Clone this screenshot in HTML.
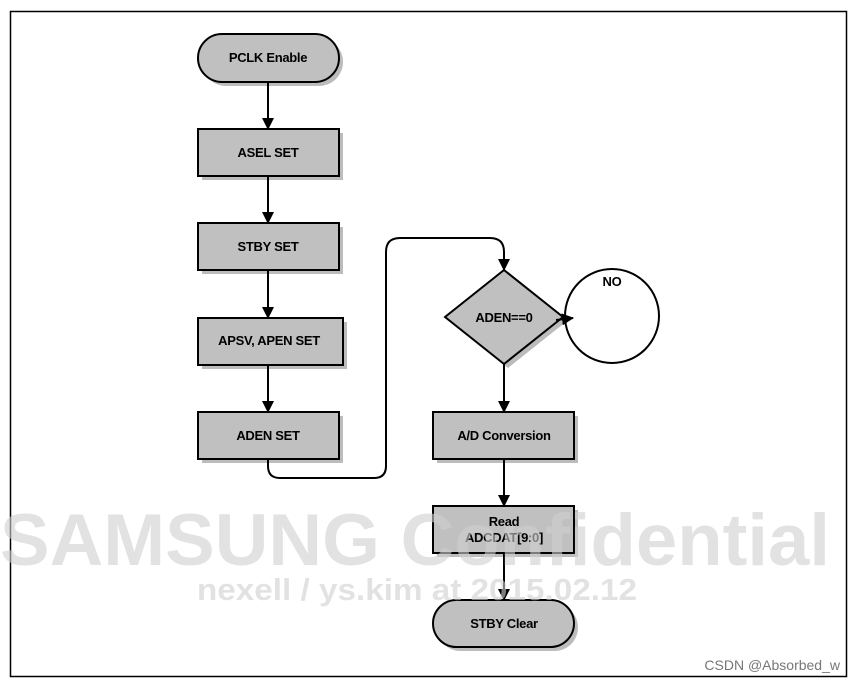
<!DOCTYPE html>
<html><head><meta charset="utf-8"><style>
html,body{margin:0;padding:0;background:#fff}
svg{display:block}
text{font-family:"Liberation Sans",Arial,sans-serif}
</style></head><body>
<svg width="857" height="681" viewBox="0 0 857 681" xmlns="http://www.w3.org/2000/svg">
<defs>
<marker id="ah" markerWidth="12" markerHeight="12" refX="11" refY="6" orient="auto" markerUnits="userSpaceOnUse">
<path d="M0,0 L12,6 L0,12 Z" fill="#000"/></marker>
</defs>
<rect x="10.5" y="11.5" width="836" height="665" fill="#fff" stroke="#000" stroke-width="1.5"/>
<g fill="#a0a0a0" opacity="0.7">
<rect x="202" y="38" width="141" height="48" rx="24"/>
<rect x="202" y="133" width="141" height="47"/>
<rect x="202" y="227" width="141" height="47"/>
<rect x="202" y="322" width="145" height="47"/>
<rect x="202" y="416" width="141" height="47"/>
<polygon points="508,274 567,321 508,368 449,321"/>
<rect x="437" y="416" width="141" height="47"/>
<rect x="437" y="510" width="141" height="47"/>
<rect x="437" y="604" width="141" height="47" rx="23.5"/>
</g>
<g fill="#c0c0c0" stroke="#000" stroke-width="2">
<rect x="198" y="34" width="141" height="48" rx="24"/>
<rect x="198" y="129" width="141" height="47"/>
<rect x="198" y="223" width="141" height="47"/>
<rect x="198" y="318" width="145" height="47"/>
<rect x="198" y="412" width="141" height="47"/>
<polygon points="504,270 563,317 504,364 445,317"/>
<rect x="433" y="412" width="141" height="47"/>
<rect x="433" y="506" width="141" height="47"/>
<rect x="433" y="600" width="141" height="47" rx="23.5"/>
</g>
<circle cx="612" cy="316" r="47" fill="none" stroke="#000" stroke-width="2"/>
<g stroke="#000" stroke-width="2" fill="none" marker-end="url(#ah)">
<line x1="268" y1="82" x2="268" y2="129"/>
<line x1="268" y1="176" x2="268" y2="223"/>
<line x1="268" y1="270" x2="268" y2="318"/>
<line x1="268" y1="365" x2="268" y2="412"/>
<path d="M268,459 V466 Q268,478 280,478 H374 Q386,478 386,466 V252 Q386,238 400,238 H490 Q504,238 504,252 V270"/>
<line x1="504" y1="364" x2="504" y2="412"/>
<line x1="504" y1="459" x2="504" y2="506"/>
<line x1="504" y1="553" x2="504" y2="600"/>
<line x1="556" y1="320" x2="573" y2="318"/>
</g>
<g font-size="13" font-weight="bold" fill="#000" text-anchor="middle" letter-spacing="-0.3">
<text x="268" y="62">PCLK Enable</text>
<text x="268" y="157">ASEL SET</text>
<text x="268" y="251">STBY SET</text>
<text x="269" y="345">APSV, APEN SET</text>
<text x="268" y="440">ADEN SET</text>
<text x="504" y="322">ADEN==0</text>
<text x="612" y="286">NO</text>
<text x="504" y="440">A/D Conversion</text>
<text x="504" y="526">Read</text>
<text x="504" y="542">ADCDAT[9:0]</text>
<text x="504" y="628">STBY Clear</text>
</g>
<g fill="#d0d0d0" opacity="0.6" font-weight="bold">
<text x="0" y="565" font-size="73" textLength="830" lengthAdjust="spacingAndGlyphs">SAMSUNG Confidential</text>
<text x="197" y="600" font-size="31" textLength="440" lengthAdjust="spacingAndGlyphs">nexell / ys.kim at 2015.02.12</text>
</g>
<text x="840" y="670" font-size="14" fill="#777" text-anchor="end">CSDN @Absorbed_w</text>
</svg>
</body></html>
